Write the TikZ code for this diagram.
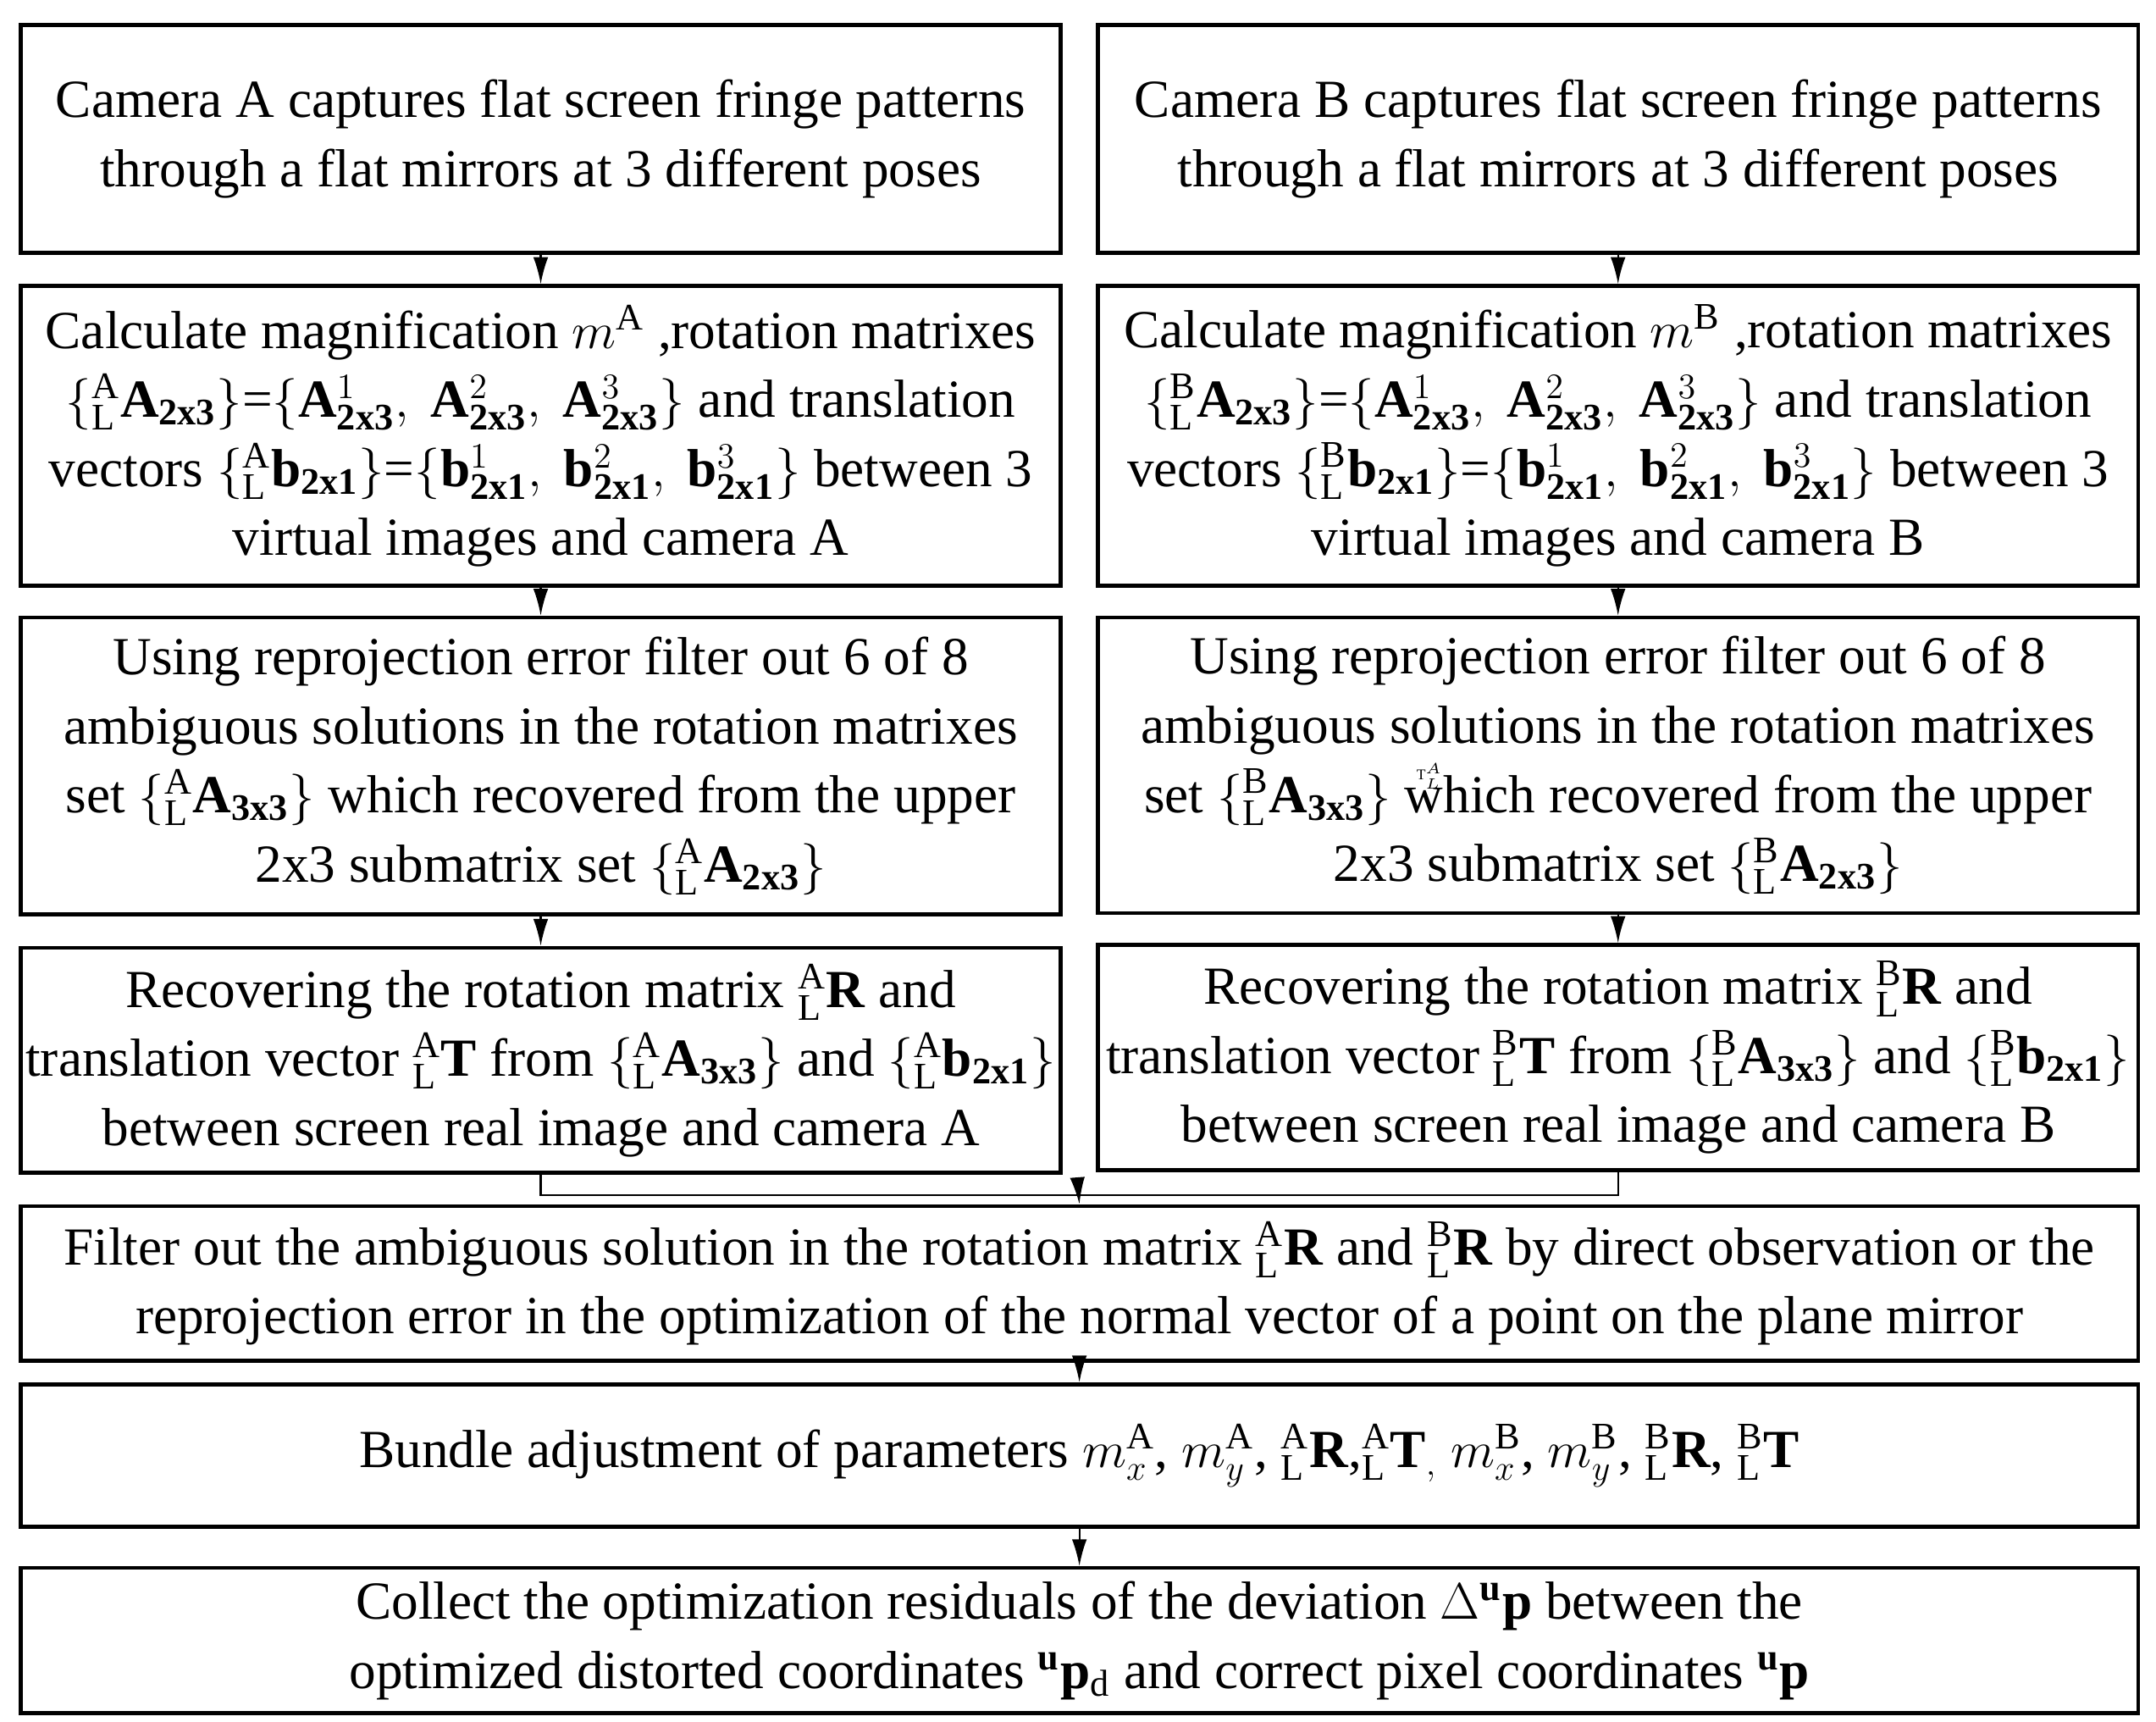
\documentclass[tikz,border=0pt]{standalone}
\usepackage{fontspec}
\setmainfont{Liberation Serif}
\usetikzlibrary{arrows.meta}
\newcommand{\pf}[3]{{}^{\mathrm{#1}}_{\mathrm{#2}}\mathbf{#3}}
\begin{document}
\begin{tikzpicture}[x=0.01631cm,y=-0.01631cm,
  box/.style={draw,line width=1.3pt,align=center,inner sep=0pt,font=\fontsize{18}{23.2}\selectfont},
  arr/.style={-{Latex[length=9pt,width=5pt]},line width=0.6pt}]
\useasboundingbox (0,0) rectangle (1561,1246);
\newcommand{\bx}[6]{\node[box,minimum width=#4*0.01631cm,minimum height=#5*0.01631cm] (#1) at (#2,#3) {#6};}
\bx{a1}{391.5}{100.5}{753}{165}{Camera A captures flat screen fringe patterns\\through a flat mirrors at 3 different poses}
\bx{b1}{1171.5}{100.5}{753}{165}{Camera B captures flat screen fringe patterns\\through a flat mirrors at 3 different poses}
\bx{a2}{391.5}{315.5}{753}{217}{Calculate magnification $m^{\mathrm{A}}$ ,rotation matrixes\\$\{\pf{A}{L}{A}_{\mathbf{2x3}}\}$=$\{\mathbf{A}^1_{\mathbf{2x3}},\ \mathbf{A}^2_{\mathbf{2x3}},\ \mathbf{A}^3_{\mathbf{2x3}}\}$ and translation\\vectors $\{\pf{A}{L}{b}_{\mathbf{2x1}}\}$=$\{\mathbf{b}^1_{\mathbf{2x1}},\ \mathbf{b}^2_{\mathbf{2x1}},\ \mathbf{b}^3_{\mathbf{2x1}}\}$ between 3\\virtual images and camera A}
\bx{b2}{1171.5}{315.5}{753}{217}{Calculate magnification $m^{\mathrm{B}}$ ,rotation matrixes\\$\{\pf{B}{L}{A}_{\mathbf{2x3}}\}$=$\{\mathbf{A}^1_{\mathbf{2x3}},\ \mathbf{A}^2_{\mathbf{2x3}},\ \mathbf{A}^3_{\mathbf{2x3}}\}$ and translation\\vectors $\{\pf{B}{L}{b}_{\mathbf{2x1}}\}$=$\{\mathbf{b}^1_{\mathbf{2x1}},\ \mathbf{b}^2_{\mathbf{2x1}},\ \mathbf{b}^3_{\mathbf{2x1}}\}$ between 3\\virtual images and camera B}
\bx{a3}{391.5}{554.5}{753}{215}{Using reprojection error filter out 6 of 8\\ambiguous solutions in the rotation matrixes\\set $\{\pf{A}{L}{A}_{\mathbf{3x3}}\}$ which recovered from the upper\\2x3 submatrix set $\{\pf{A}{L}{A}_{\mathbf{2x3}}\}$}
\bx{b3}{1171.5}{554}{753}{214}{Using reprojection error filter out 6 of 8\\ambiguous solutions in the rotation matrixes\\set $\{\pf{B}{L}{A}_{\mathbf{3x3}}\}$ which recovered from the upper\\2x3 submatrix set $\{\pf{B}{L}{A}_{\mathbf{2x3}}\}$}
\node[font=\tiny] (stray) at (1035,562) {T$^{A}_{L}$};
\bx{a4}{391.5}{767.5}{753}{163}{Recovering the rotation matrix $\pf{A}{L}{R}$ and\\translation vector $\pf{A}{L}{T}$ from $\{\pf{A}{L}{A}_{\mathbf{3x3}}\}$ and $\{\pf{A}{L}{b}_{\mathbf{2x1}}\}$\\between screen real image and camera A}
\bx{b4}{1171.5}{765.5}{753}{163}{Recovering the rotation matrix $\pf{B}{L}{R}$ and\\translation vector $\pf{B}{L}{T}$ from $\{\pf{B}{L}{A}_{\mathbf{3x3}}\}$ and $\{\pf{B}{L}{b}_{\mathbf{2x1}}\}$\\between screen real image and camera B}
\bx{c5}{781.5}{929}{1533}{112}{Filter out the ambiguous solution in the rotation matrix $\pf{A}{L}{R}$ and $\pf{B}{L}{R}$ by direct observation or the\\reprojection error in the optimization of the normal vector of a point on the plane mirror}
\bx{c6}{781.5}{1053.5}{1533}{103}{Bundle adjustment of parameters $m^{\mathrm{A}}_x$, $m^{\mathrm{A}}_y$, $\pf{A}{L}{R}$,$\pf{A}{L}{T}_{,}$ $m^{\mathrm{B}}_x$, $m^{\mathrm{B}}_y$, $\pf{B}{L}{R}$, $\pf{B}{L}{T}$}
\bx{c7}{781.5}{1187.5}{1533}{105}{Collect the optimization residuals of the deviation $\Delta^{\mathbf{u}}\mathbf{p}$ between the\\optimized distorted coordinates $^{\mathbf{u}}\mathbf{p}_{\mathrm{d}}$ and correct pixel coordinates $^{\mathbf{u}}\mathbf{p}$}
\draw[arr] (a1.south) -- (a2.north);
\draw[arr] (b1.south) -- (b2.north);
\draw[arr] (a2.south) -- (a3.north);
\draw[arr] (b2.south) -- (b3.north);
\draw[arr] (a3.south) -- (a4.north);
\draw[arr] (b3.south) -- (b4.north);
\coordinate (m) at (781,865);
\draw[line width=0.6pt] (a4.south) |- (m) -| (b4.south);
\draw[arr] (m) -- (c5.north);
\draw[arr] (c5.south) -- (c6.north);
\draw[arr] (c6.south) -- (c7.north);
\end{tikzpicture}
\end{document}
